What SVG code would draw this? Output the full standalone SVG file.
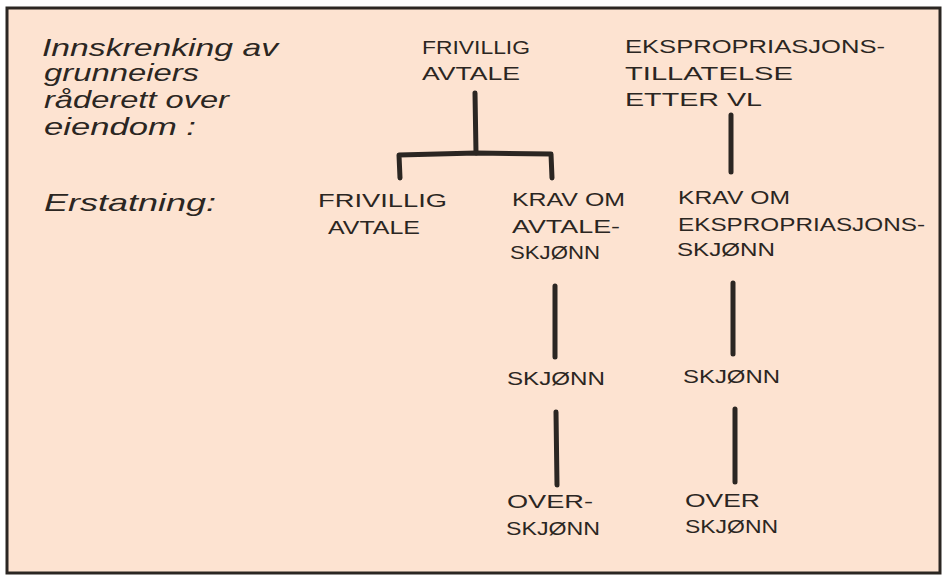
<svg xmlns="http://www.w3.org/2000/svg" width="948" height="577" viewBox="0 0 948 577">
<style>
.hand{font-family:"Liberation Sans",Arial,sans-serif;font-style:italic;font-size:24px;fill:#2b2622}
.caps{font-family:"Liberation Sans",Arial,sans-serif;font-size:19px;fill:#2b2622}
.c{stroke:#2b2622;stroke-width:5;stroke-linecap:round;fill:none;stroke-linejoin:round}
</style>
<rect x="0" y="0" width="948" height="577" fill="#ffffff"/>
<rect x="7" y="8" width="933" height="565" fill="#fde3d1" stroke="#2b2622" stroke-width="3"/>
<g id="label-innskrenking">
<text class="hand" x="42" y="56" textLength="236" lengthAdjust="spacingAndGlyphs">Innskrenking av</text>
<text class="hand" x="44" y="81" textLength="155" lengthAdjust="spacingAndGlyphs">grunneiers</text>
<text class="hand" x="44" y="108" textLength="185" lengthAdjust="spacingAndGlyphs">råderett over</text>
<text class="hand" x="44" y="135" textLength="152" lengthAdjust="spacingAndGlyphs">eiendom :</text>
</g>
<g id="label-erstatning">
<text class="hand" x="44" y="211" textLength="172" lengthAdjust="spacingAndGlyphs">Erstatning:</text>
</g>
<g id="node-frivillig-avtale-top">
<text class="caps" x="422" y="54" textLength="108" lengthAdjust="spacingAndGlyphs">FRIVILLIG</text>
<text class="caps" x="422" y="80" textLength="98" lengthAdjust="spacingAndGlyphs">AVTALE</text>
</g>
<g id="node-ekspropriasjonstillatelse">
<text class="caps" x="625" y="53" textLength="260" lengthAdjust="spacingAndGlyphs">EKSPROPRIASJONS-</text>
<text class="caps" x="625" y="80" textLength="168" lengthAdjust="spacingAndGlyphs">TILLATELSE</text>
<text class="caps" x="625" y="106" textLength="137" lengthAdjust="spacingAndGlyphs">ETTER VL</text>
</g>
<g id="node-frivillig-avtale">
<text class="caps" x="318" y="207" textLength="129" lengthAdjust="spacingAndGlyphs">FRIVILLIG</text>
<text class="caps" x="328" y="234" textLength="92" lengthAdjust="spacingAndGlyphs">AVTALE</text>
</g>
<g id="node-krav-avtaleskjonn">
<text class="caps" x="512" y="206" textLength="113" lengthAdjust="spacingAndGlyphs">KRAV OM</text>
<text class="caps" x="512" y="233" textLength="108" lengthAdjust="spacingAndGlyphs">AVTALE-</text>
<text class="caps" x="510" y="259" textLength="90" lengthAdjust="spacingAndGlyphs">SKJØNN</text>
</g>
<g id="node-krav-ekspropriasjonsskjonn">
<text class="caps" x="678" y="204" textLength="112" lengthAdjust="spacingAndGlyphs">KRAV OM</text>
<text class="caps" x="678" y="231" textLength="247" lengthAdjust="spacingAndGlyphs">EKSPROPRIASJONS-</text>
<text class="caps" x="677" y="256" textLength="98" lengthAdjust="spacingAndGlyphs">SKJØNN</text>
</g>
<g id="node-skjonn-1">
<text class="caps" x="507" y="385" textLength="98" lengthAdjust="spacingAndGlyphs">SKJØNN</text>
</g>
<g id="node-skjonn-2">
<text class="caps" x="683" y="383" textLength="97" lengthAdjust="spacingAndGlyphs">SKJØNN</text>
</g>
<g id="node-overskjonn-1">
<text class="caps" x="507" y="508" textLength="86" lengthAdjust="spacingAndGlyphs">OVER-</text>
<text class="caps" x="506" y="535" textLength="94" lengthAdjust="spacingAndGlyphs">SKJØNN</text>
</g>
<g id="node-overskjonn-2">
<text class="caps" x="685" y="507" textLength="75" lengthAdjust="spacingAndGlyphs">OVER</text>
<text class="caps" x="685" y="533" textLength="93" lengthAdjust="spacingAndGlyphs">SKJØNN</text>
</g>
<g id="connectors">
<path class="c" d="M475 93 L476 153"/>
<path class="c" d="M400 178 L399 155 L476 153 L551 154 L552 178"/>
<path class="c" d="M731 115 L731 172"/>
<path class="c" d="M555 286 L555 357"/>
<path class="c" d="M556 412 L557 485"/>
<path class="c" d="M733 283 L733 354"/>
<path class="c" d="M735 409 L735 482"/>
</g>
</svg>
